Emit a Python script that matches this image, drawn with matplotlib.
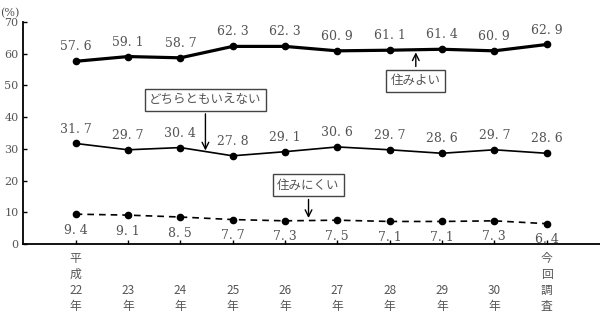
import matplotlib
matplotlib.use('Agg')
import matplotlib.pyplot as plt

plt.rcParams['font.family'] = ['Noto Sans CJK JP', 'DejaVu Sans']

# Data
years = ['平\n成\n22\n年', '23\n年', '24\n年', '25\n年', '26\n年',
         '27\n年', '28\n年', '29\n年', '30\n年', '今\n回\n調\n査']
sumiyoi = [57.6, 59.1, 58.7, 62.3, 62.3, 60.9, 61.1, 61.4, 60.9, 62.9]
dochira = [31.7, 29.7, 30.4, 27.8, 29.1, 30.6, 29.7, 28.6, 29.7, 28.6]
suminikui = [9.4, 9.1, 8.5, 7.7, 7.3, 7.5, 7.1, 7.1, 7.3, 6.4]
yticks = [0, 10, 20, 30, 40, 50, 60, 70]

gray = '#555555'
x = list(range(len(years)))

fig = plt.figure(figsize=(6, 3.14), dpi=100)
ax = fig.add_axes([0.038, 0.223, 0.962, 0.707])

ax.plot(x, sumiyoi, color='black', lw=2.3, marker='o', ms=4.5)
ax.plot(x, dochira, color='black', lw=1.2, marker='o', ms=4.5)
ax.plot(x, suminikui, color='black', lw=1.2, ls=(0, (4, 3)), marker='o', ms=4.5)

for i in x:
    ax.text(i, sumiyoi[i] + 2.5, f'{sumiyoi[i]:.1f}'.replace('.', '. '),
            ha='center', va='bottom', fontsize=9, color=gray, family='DejaVu Serif')
    ax.text(i, dochira[i] + 2.5, f'{dochira[i]:.1f}'.replace('.', '. '),
            ha='center', va='bottom', fontsize=9, color=gray, family='DejaVu Serif')
    ax.text(i, suminikui[i] - 3.0, f'{suminikui[i]:.1f}'.replace('.', '. '),
            ha='center', va='top', fontsize=9, color=gray, family='DejaVu Serif')

box = dict(boxstyle='square,pad=0.35', fc='white', ec='#444444', lw=1)
arrow = dict(arrowstyle='->', color='black', lw=1, mutation_scale=12)

ax.annotate('住みよい', xy=(6.5, 61.3), xytext=(6.5, 51.5), ha='center', va='center',
            fontsize=9, color=gray, bbox=box, arrowprops=arrow)
ax.annotate('どちらともいえない', xy=(2.48, 28.6), xytext=(2.48, 45.5), ha='center',
            va='center', fontsize=9, color=gray, bbox=box, arrowprops=arrow)
ax.annotate('住みにくい', xy=(4.45, 7.3), xytext=(4.45, 18.5), ha='center', va='center',
            fontsize=9, color=gray, bbox=box, arrowprops=arrow)

ax.set_xlim(-1.01, 10.02)
ax.set_ylim(0, 70)
ax.set_yticks(yticks)
ax.set_yticklabels([str(v) for v in yticks], family='DejaVu Serif', fontsize=8, color=gray)
ax.set_xticks(x)
labels = []
for lab in years:
    n = lab.count('\n')
    labels.append('\n' * (3 - n) + lab)
ax.set_xticklabels(labels, fontsize=8.5, color=gray, linespacing=1.3)
for t in ax.get_xticklabels():
    t.set_verticalalignment('top')
ax.tick_params(axis='both', direction='in', length=3, width=1, color='black')
ax.tick_params(axis='x', pad=6)
ax.tick_params(axis='y', pad=3)

for s in ['top', 'right']:
    ax.spines[s].set_visible(False)
for s in ['left', 'bottom']:
    ax.spines[s].set_linewidth(1.3)

fig.text(0.0, 0.975, '(%)', fontsize=8, color=gray, va='top', family='DejaVu Serif')

fig.savefig('out.png', dpi=100)
